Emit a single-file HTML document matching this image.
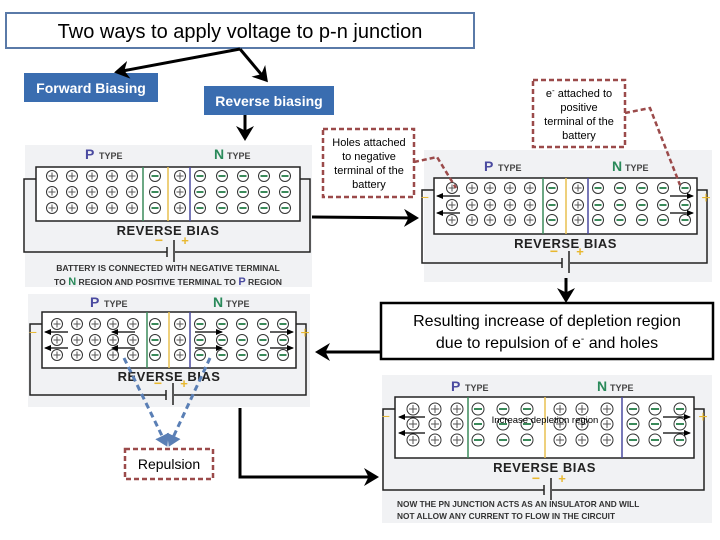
<!DOCTYPE html>
<html><head><meta charset="utf-8">
<style>
body{margin:0;width:720px;height:540px;overflow:hidden;background:#fff;font-family:"Liberation Sans",sans-serif}
svg{position:absolute;left:0;top:0}
</style></head><body>
<svg id="s" width="720" height="540" xmlns="http://www.w3.org/2000/svg" font-family="Liberation Sans, sans-serif">
<defs>
<marker id="ah" markerWidth="6" markerHeight="6" refX="4" refY="3" orient="auto" markerUnits="strokeWidth"><path d="M0,0 L5,3 L0,6 L1.5,3 z" fill="#000"/></marker>
<marker id="ab" markerWidth="5" markerHeight="5" refX="3" refY="2.5" orient="auto" markerUnits="strokeWidth"><path d="M0,0 L4,2.5 L0,5 z" fill="#5a7fb5"/></marker>
<marker id="sm" markerWidth="8" markerHeight="8" refX="6" refY="4" orient="auto" markerUnits="userSpaceOnUse"><path d="M0,1 L7,4 L0,7 z" fill="#000"/></marker>
</defs>
<rect x="6" y="13" width="468" height="35" fill="#fff" stroke="#5a7aa8" stroke-width="2"/>
<text x="240" y="38" font-size="20" text-anchor="middle" fill="#000">Two ways to apply voltage to p-n junction</text>
<rect x="24" y="73" width="134" height="29" fill="#3a6db0"/>
<text x="91" y="93" font-size="14" font-weight="bold" fill="#fff" text-anchor="middle">Forward Biasing</text>
<rect x="204" y="86" width="130" height="29" fill="#3a6db0"/>
<text x="269" y="106" font-size="14" font-weight="bold" fill="#fff" text-anchor="middle">Reverse biasing</text>
<g id="panels"></g>
<g stroke="#000" stroke-width="3" fill="none">
<line x1="240" y1="49" x2="117" y2="72" marker-end="url(#ah)"/>
<line x1="240" y1="49" x2="266" y2="80" marker-end="url(#ah)"/>
<line x1="245" y1="115" x2="245" y2="138" marker-end="url(#ah)"/>
<line x1="312" y1="217" x2="416" y2="218" marker-end="url(#ah)"/>
<line x1="566" y1="278" x2="566" y2="300" marker-end="url(#ah)"/>
<line x1="381" y1="352" x2="318" y2="352" marker-end="url(#ah)"/>
<polyline points="240,408 240,477 376,477" marker-end="url(#ah)"/>
</g>
<g stroke="#9b4a4a" stroke-width="2.5" stroke-dasharray="5,3" fill="none">
<rect x="323" y="129" width="91" height="68" fill="#fff"/>
<polyline points="414,162 437,157 456,188"/>
<rect x="533" y="80" width="92" height="67" fill="#fff"/>
<polyline points="625,113 650,108 680,185"/>
<rect x="125" y="449" width="88" height="30" fill="#fff"/>
</g>
<text font-size="11" text-anchor="middle" fill="#000"><tspan x="369" y="146">Holes attached</tspan><tspan x="369" y="160">to negative</tspan><tspan x="369" y="174">terminal of the</tspan><tspan x="369" y="188">battery</tspan></text>
<text font-size="11" text-anchor="middle" fill="#000"><tspan x="579" y="97">e<tspan font-size="8" dy="-4">-</tspan><tspan dy="4"> attached to</tspan></tspan><tspan x="579" y="111">positive</tspan><tspan x="579" y="125">terminal of the</tspan><tspan x="579" y="139">battery</tspan></text>
<text x="169" y="469" font-size="14" text-anchor="middle" fill="#000">Repulsion</text>
<g stroke="#5a7fb5" stroke-width="3" stroke-dasharray="6,4" fill="none">
<line x1="124" y1="358" x2="166" y2="444" marker-end="url(#ab)"/>
<line x1="210" y1="358" x2="170" y2="444" marker-end="url(#ab)"/>
</g>
<rect x="381" y="303" width="332" height="56" fill="#fff" stroke="#000" stroke-width="2.5"/>
<text x="547" y="326" font-size="16" text-anchor="middle" fill="#000">Resulting increase of depletion region</text>
<text x="547" y="348" font-size="16" text-anchor="middle" fill="#000">due to repulsion of e<tspan font-size="10" dy="-6">-</tspan><tspan dy="6"> and holes</tspan></text>
</svg>
<script>
var NS="http://www.w3.org/2000/svg",G=document.getElementById("panels");
function el(t,a,p){var e=document.createElementNS(NS,t);for(var k in a)e.setAttribute(k,a[k]);(p||G).appendChild(e);return e}
function txt(x,y,s,a){var e=el("text",Object.assign({x:x,y:y},a));e.textContent=s;return e}
function panel(o){
 el("rect",{x:o.bx,y:o.by,width:o.bw,height:o.bh,fill:"#f1f2f4"});
 el("polyline",{points:(o.x1)+","+(o.y1+12)+" "+(o.x1-12)+","+(o.y1+12)+" "+(o.x1-12)+","+o.wy+" "+(o.bat-4)+","+o.wy,fill:"none",stroke:"#222","stroke-width":1.5});
 el("polyline",{points:(o.x2)+","+(o.y1+12)+" "+(o.x2+10)+","+(o.y1+12)+" "+(o.x2+10)+","+o.wy+" "+(o.bat+4)+","+o.wy,fill:"none",stroke:"#222","stroke-width":1.5});
 el("line",{x1:o.bat-4,y1:o.wy-5,x2:o.bat-4,y2:o.wy+5,stroke:"#222","stroke-width":1.5});
 el("line",{x1:o.bat+3,y1:o.wy-12,x2:o.bat+3,y2:o.wy+10,stroke:"#222","stroke-width":1.5});
 txt(o.bat-12,o.wy-7,"−",{"font-size":14,fill:"#e8b830","text-anchor":"middle","font-weight":"bold"});
 txt(o.bat+14,o.wy-7,"+",{"font-size":13,fill:"#e8b830","text-anchor":"middle","font-weight":"bold"});
 el("rect",{x:o.x1,y:o.y1,width:o.x2-o.x1,height:o.y2-o.y1,fill:"#fff",stroke:"#222","stroke-width":1.5});
 o.lines.forEach(function(l){el("line",{x1:l[0],y1:o.y1,x2:l[0],y2:o.y2,stroke:l[1],"stroke-width":1.5})});
 for(var i=0;i<o.xs.length;i++)for(var r=0;r<3;r++){
  var cx=o.xs[i],cy=o.rows[r],neg=o.types[i]=="-";
  el("circle",{cx:cx,cy:cy,r:o.cr,fill:"#fff",stroke:"#333","stroke-width":1});
  el("line",{x1:cx-o.cr+2,y1:cy,x2:cx+o.cr-2,y2:cy,stroke:neg?"#3a8a5a":"#555","stroke-width":neg?2:1});
  if(!neg)el("line",{x1:cx,y1:cy-o.cr+2,x2:cx,y2:cy+o.cr-2,stroke:"#555","stroke-width":1});
 }
 txt(o.px,o.ty,"P",{"font-size":14,"font-weight":"bold",fill:"#4a4aa0"});
 txt(o.px+14,o.ty,"TYPE",{"font-size":9,"font-weight":"bold",fill:"#444"});
 txt(o.nx,o.ty,"N",{"font-size":14,"font-weight":"bold",fill:"#2a8a5a"});
 txt(o.nx+13,o.ty,"TYPE",{"font-size":9,"font-weight":"bold",fill:"#444"});
 txt((o.x1+o.x2)/2,o.ry,"REVERSE BIAS",{"font-size":13,"font-weight":"bold",fill:"#222","text-anchor":"middle","letter-spacing":"0.5"});
 (o.arrows||[]).forEach(function(a){el("line",{x1:a[0],y1:a[1],x2:a[2],y2:a[1],stroke:"#000","stroke-width":1.3,"marker-end":"url(#sm)"})});
 if(o.signs){txt(o.x1-9,o.rows[1]-3,"−",{"font-size":14,fill:"#e8b830","text-anchor":"middle"});txt(o.x2+9,o.rows[1]-2,"+",{"font-size":16,fill:"#e8b830","text-anchor":"middle"});}
}
var T1="+++++-+-----".split("");
panel({bx:25,by:145,bw:287,bh:142,x1:36,y1:167,x2:300,y2:221,xs:[52,72,92,112,132,155,180,200,222,243,264,285],rows:[176,192,208],cr:5.5,types:T1,
 lines:[[143,"#3a8a5a"],[168,"#e8c050"],[190,"#4a4aa0"]],px:85,nx:214,ty:159,ry:235,wy:252,bat:171});
txt(168,271,"BATTERY IS CONNECTED WITH NEGATIVE TERMINAL",{"font-size":8.6,"font-weight":"bold",fill:"#333","text-anchor":"middle"});
var t=txt(168,285,"",{"font-size":8.6,"font-weight":"bold",fill:"#333","text-anchor":"middle"});
t.innerHTML='TO <tspan fill="#2a8a5a" font-size="11">N</tspan> REGION AND POSITIVE TERMINAL TO <tspan fill="#4a4aa0" font-size="11">P</tspan> REGION';
panel({bx:424,by:150,bw:288,bh:132,x1:434,y1:178,x2:697,y2:234,xs:[452,472,490,510,530,552,578,598,620,642,663,685],rows:[188,205,220],cr:5.5,types:T1,signs:1,
 lines:[[543,"#3a8a5a"],[566,"#e8c050"],[588,"#4a4aa0"]],px:484,nx:612,ty:171,ry:248,wy:263,bat:566,
 arrows:[[460,196,437],[460,213,437],[670,196,693],[670,213,693]]});
panel({bx:28,by:294,bw:282,bh:113,x1:42,y1:312,x2:296,y2:368,xs:[57,77,95,113,133,155,180,200,222,242,263,283],rows:[324,340,355],cr:5.5,types:T1,signs:1,
 lines:[[147,"#3a8a5a"],[169,"#e8c050"],[190,"#4a4aa0"]],px:90,nx:213,ty:307,ry:381,wy:395,bat:170,
 arrows:[[68,332,45],[68,348,45],[135,332,112],[135,348,112],[195,332,222],[195,348,222],[270,332,293],[270,348,293]]});
panel({bx:382,by:375,bw:330,bh:148,x1:395,y1:397,x2:694,y2:458,xs:[413,435,457,478,503,527,560,582,607,633,655,680],rows:[409,424,440],cr:6,types:"+++---+++---".split(""),signs:1,
 lines:[[468,"#3a8a5a"],[545,"#e8c050"],[622,"#4a4aa0"]],px:451,nx:597,ty:391,ry:472,wy:490,bat:548,
 arrows:[[425,417,399],[425,433,399],[663,417,690],[663,433,690]]});
txt(545,423,"Increase depletion region",{"font-size":9.5,fill:"#000","text-anchor":"middle"});
txt(397,507,"NOW THE PN JUNCTION ACTS AS AN INSULATOR AND WILL",{"font-size":8.3,"font-weight":"bold",fill:"#333"});
txt(397,519,"NOT ALLOW ANY CURRENT TO FLOW IN THE CIRCUIT",{"font-size":8.3,"font-weight":"bold",fill:"#333"});
</script>
</body></html>
